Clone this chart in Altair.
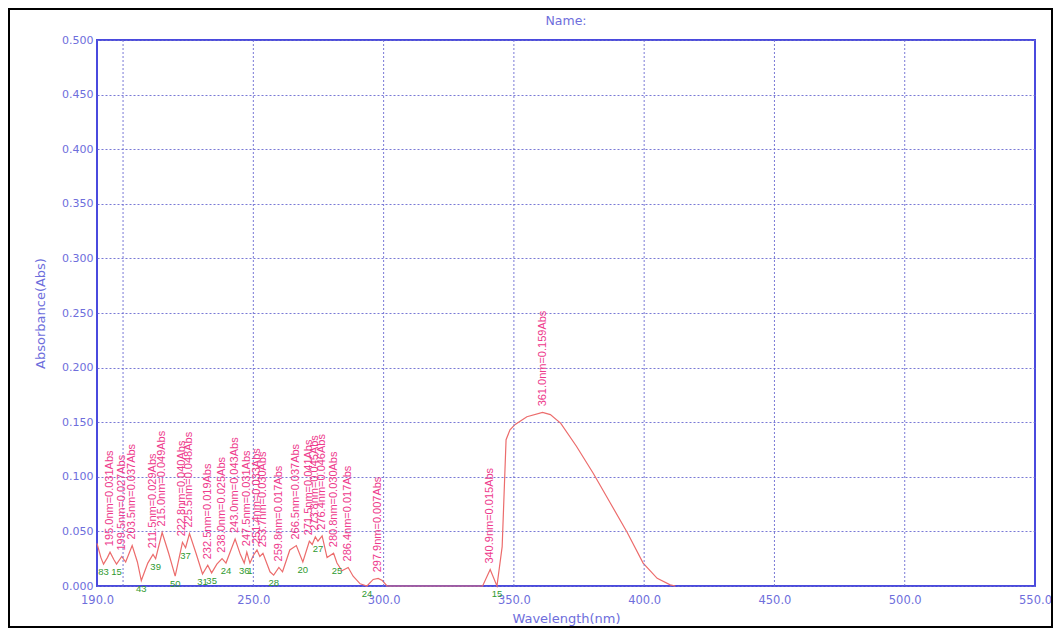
import altair as alt
import pandas as pd

# ---------------- data ----------------
curve_nm = [190.0, 191.5, 192.5, 194.0, 195.0, 196.5, 197.5, 199.5, 201.0, 203.5,
            205.5, 207.0, 209.5, 211.5, 212.5, 215.0, 217.5, 220.0, 222.8, 224.0,
            225.5, 228.0, 230.5, 232.5, 234.0, 236.0, 238.0, 239.5, 243.0, 245.0,
            246.5, 247.5, 248.7, 250.0, 251.4, 252.5, 253.7, 256.4, 257.8, 259.8,
            261.2, 264.0, 266.5, 269.0, 271.5, 272.6, 273.8, 274.8, 276.4, 278.3,
            280.8, 282.1, 284.0, 286.4, 288.3, 291.0, 293.6, 296.0, 297.9, 299.5,
            301.3, 338.0, 340.9, 343.5, 345.5, 347.0, 348.5, 350.5, 355.0, 361.0,
            364.0, 368.0, 374.0, 380.5, 387.0, 393.5, 399.6, 405.0, 410.0, 412.0]
curve_abs = [0.039, 0.026, 0.020, 0.026, 0.031, 0.024, 0.020, 0.027, 0.022, 0.037,
             0.022, 0.005, 0.021, 0.029, 0.025, 0.049, 0.030, 0.009, 0.040, 0.035,
             0.048, 0.030, 0.011, 0.019, 0.012, 0.020, 0.025, 0.021, 0.043, 0.029,
             0.021, 0.031, 0.021, 0.028, 0.033, 0.027, 0.030, 0.013, 0.010, 0.017,
             0.013, 0.033, 0.037, 0.022, 0.041, 0.038, 0.045, 0.041, 0.046, 0.026,
             0.030, 0.021, 0.014, 0.017, 0.009, 0.002, 0.000, 0.006, 0.007, 0.005,
             0.000, 0.000, 0.015, 0.000, 0.036, 0.134, 0.143, 0.148, 0.155, 0.159,
             0.157, 0.149, 0.128, 0.103, 0.076, 0.049, 0.021, 0.007, 0.001, 0.000]

peak_nm = [195.0, 199.5, 203.5, 211.5, 215.0, 222.8, 225.5, 232.5, 238.0, 243.0,
           247.5, 251.4, 253.7, 259.8, 266.5, 271.5, 273.8, 276.4, 280.8, 286.4,
           297.9, 340.9, 361.0]
peak_abs = [0.031, 0.027, 0.037, 0.029, 0.049, 0.040, 0.048, 0.019, 0.025, 0.043,
            0.031, 0.033, 0.030, 0.017, 0.037, 0.041, 0.045, 0.046, 0.030, 0.017,
            0.007, 0.015, 0.159]
peak_text = ["%.1fnm=%.3fAbs" % (n, a) for n, a in zip(peak_nm, peak_abs)]

valley_nm = [192.5, 197.5, 207.0, 212.5, 220.0, 224.0, 230.5, 234.0, 239.5, 246.5,
             248.7, 257.8, 269.0, 274.8, 282.1, 293.6, 343.5]
valley_abs = [0.020, 0.020, 0.005, 0.025, 0.009, 0.035, 0.011, 0.012, 0.021, 0.021,
              0.021, 0.010, 0.022, 0.041, 0.021, 0.000, 0.000]
valley_text = ["83", "15", "43", "39", "50", "37", "31", "35", "24", "36",
               "1", "28", "20", "27", "25", "24", "15"]

x_tick_values = [190, 250, 300, 350, 400, 450, 500, 550]
x_grid_values = [200, 250, 300, 350, 400, 450, 500]
y_tick_values = [0.0, 0.05, 0.1, 0.15, 0.2, 0.25, 0.3, 0.35, 0.4, 0.45, 0.5]

chart_title = "Name:"
x_title = "Wavelength(nm)"
y_title = "Absorbance(Abs)"

# ---------------- styling ----------------
BLUE_TXT = "#6e6edc"
GRID = "#6a6ad2"
CURVE = "#ec6c6c"
PINK = "#ee3a8c"
GREEN = "#2f9a2f"
FONT = "DejaVu Sans"

W, H = 938, 546

curve_df = pd.DataFrame({"nm": curve_nm, "abs": curve_abs})
peak_df = pd.DataFrame({"nm": peak_nm, "abs": peak_abs, "label": peak_text})
valley_df = pd.DataFrame({"nm": valley_nm, "abs": valley_abs, "label": valley_text})
gridx_df = pd.DataFrame({"nm": x_grid_values})

x_scale = alt.Scale(domain=[190, 550], nice=False, zero=False)
y_scale = alt.Scale(domain=[0, 0.5], nice=False, zero=False)

x_axis = alt.Axis(
    values=x_tick_values, format=".1f", grid=False, ticks=False, domain=False,
    labelPadding=8, labelColor=BLUE_TXT, labelFont=FONT, labelFontSize=11.5,
    labelFlush=False, labelOverlap=False,
    title=x_title, titleX=W / 2, titleY=32, titleAlign="center",
    titleBaseline="middle", titleColor=BLUE_TXT, titleFont=FONT,
    titleFontSize=13, titleFontWeight="normal",
)
y_axis = alt.Axis(
    values=y_tick_values, format=".3f", grid=True, gridColor=GRID,
    gridDash=[2, 2], gridWidth=1, gridOpacity=0.9, ticks=False, domain=False,
    labelPadding=4, labelColor=BLUE_TXT, labelFont=FONT, labelFontSize=11,
    labelFlush=False, labelOverlap=False,
    title=y_title, titleX=-57, titleY=H / 2, titleAngle=270,
    titleAlign="center", titleBaseline="middle", titleColor=BLUE_TXT,
    titleFont=FONT, titleFontSize=13, titleFontWeight="normal",
)

X = alt.X("nm:Q", scale=x_scale, axis=x_axis)
Y = alt.Y("abs:Q", scale=y_scale, axis=y_axis)

line = alt.Chart(curve_df).mark_line(color=CURVE, strokeWidth=1.2).encode(x=X, y=Y)

xgrid = alt.Chart(gridx_df).mark_rule(
    color=GRID, strokeDash=[2, 2], strokeWidth=1, opacity=0.9
).encode(x=X)

peaks = alt.Chart(peak_df).mark_text(
    angle=270, align="left", baseline="middle", dx=6,
    font="Liberation Sans", fontSize=11, color=PINK,
).encode(x=X, y=Y, text="label:N")

valleys = alt.Chart(valley_df).mark_text(
    align="center", baseline="top", dy=3,
    font="Liberation Sans", fontSize=9.5, color=GREEN,
).encode(x=X, y=Y, text="label:N")

frame = alt.Chart(alt.Data(values=[{"f": 1}])).mark_rect(
    fillOpacity=0, stroke="#000000", strokeWidth=2
).encode(
    x=alt.value(-88), x2=alt.value(955), y=alt.value(-31), y2=alt.value(587)
)

title = alt.Chart(alt.Data(values=[{"t": chart_title}])).mark_text(
    font=FONT, fontSize=12.5, color=BLUE_TXT, align="center", baseline="middle"
).encode(x=alt.value(W / 2), y=alt.value(-19), text="t:N")

chart = alt.layer(line, xgrid, valleys, peaks, frame, title).properties(
    width=W, height=H,
    padding={"left": 89, "top": 32, "right": 18, "bottom": 42},
    autosize=alt.AutoSizeParams(type="none"),
    background="white",
).configure_view(stroke="#4a4ade", strokeWidth=2)

chart.save("out.html", embed_options={"renderer": "svg", "actions": False})
